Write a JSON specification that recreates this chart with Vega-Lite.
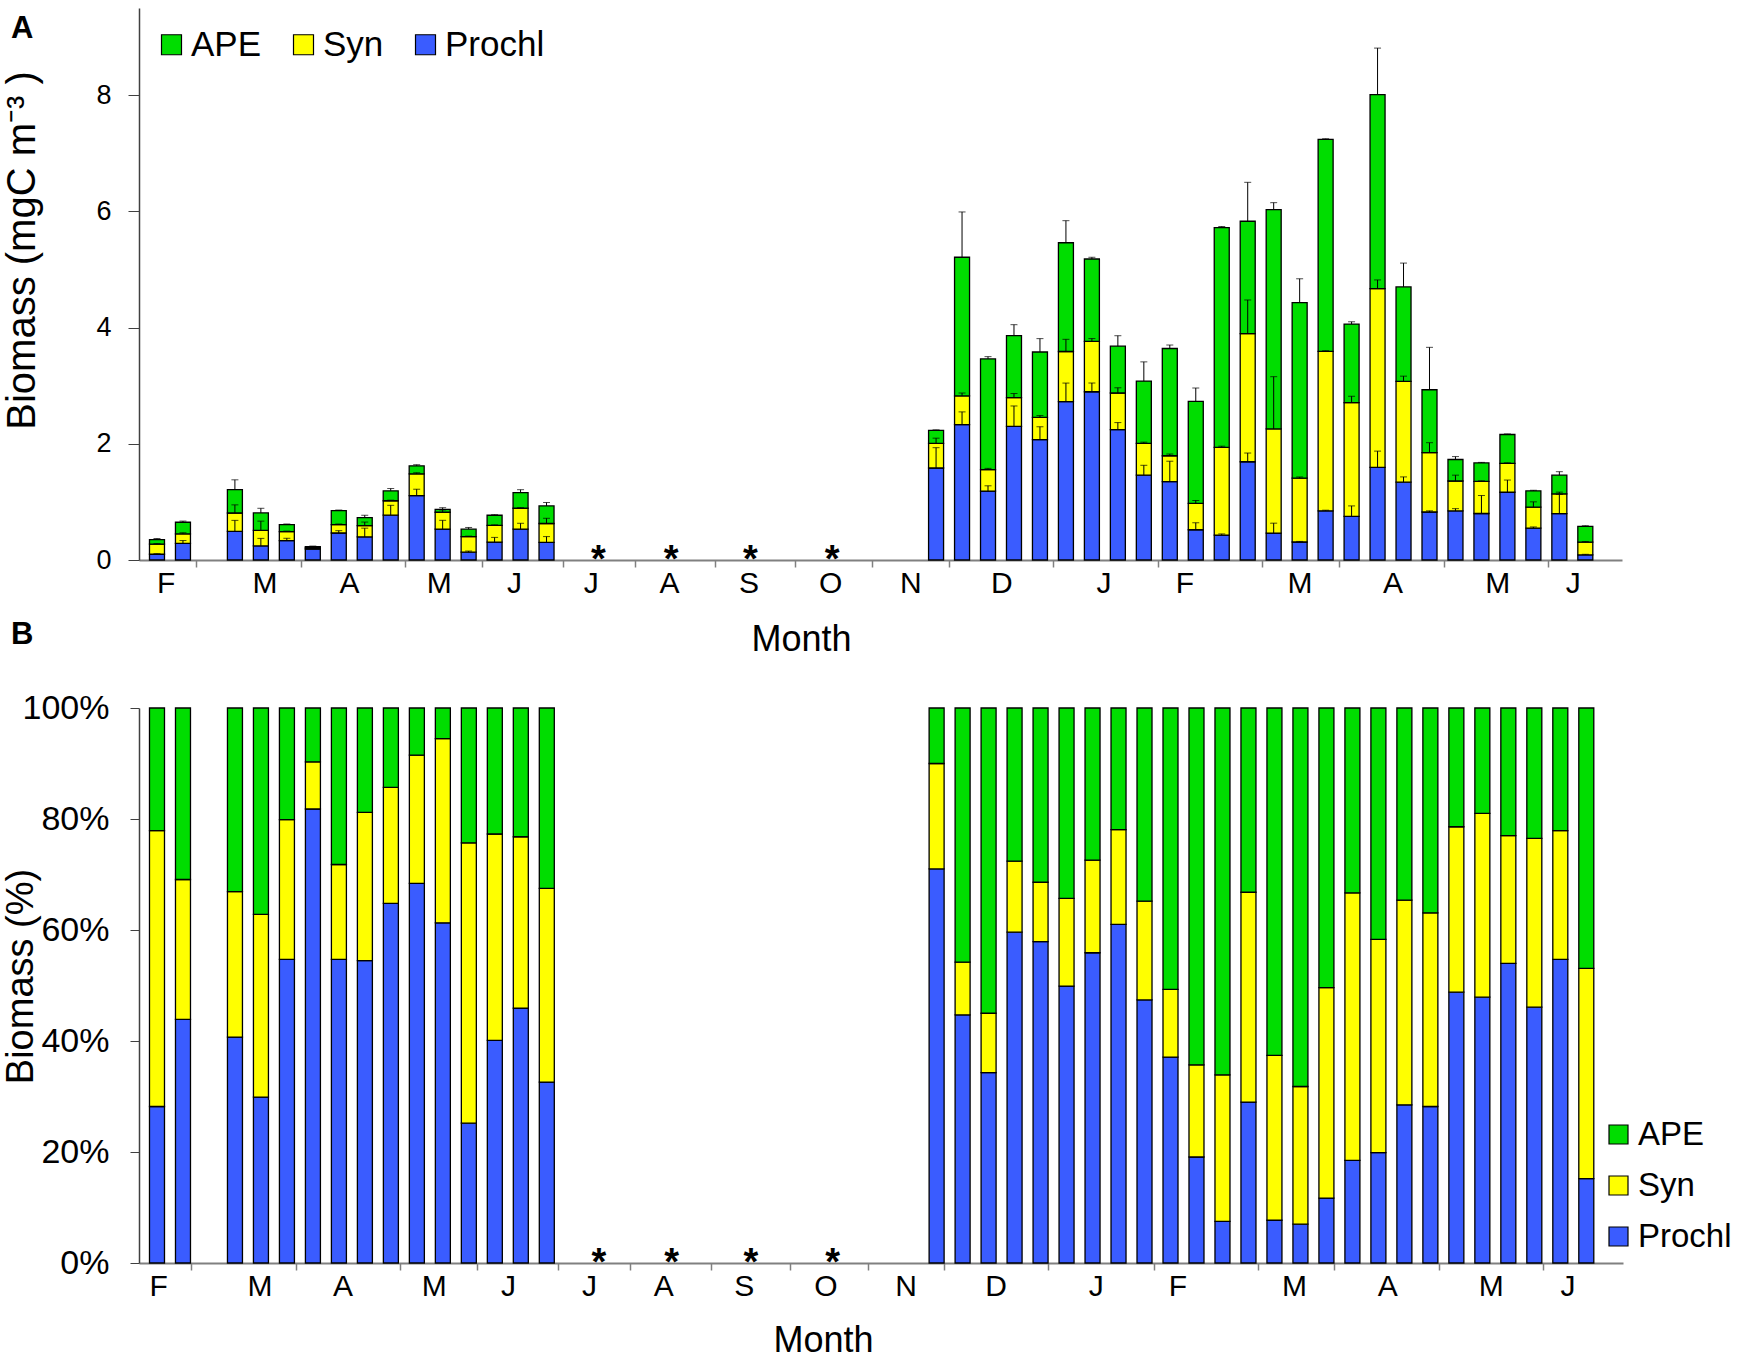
{
  "$schema": "https://vega.github.io/schema/vega-lite/v6.json",
  "background": "white",
  "padding": {"left": 1, "top": 8, "right": 0, "bottom": 0},
  "bounds": "flush",
  "spacing": 148,
  "datasets": {
    "bio": [
      {"s": 0, "g": "Prochl", "k": 1, "v": 0.099, "p": 28.2, "u": 0.109},
      {"s": 0, "g": "Syn", "k": 2, "v": 0.174, "p": 49.7, "u": 0.283},
      {"s": 0, "g": "APE", "k": 3, "v": 0.077, "p": 22.1, "u": 0.37},
      {"s": 1, "g": "Prochl", "k": 1, "v": 0.285, "p": 43.9, "u": 0.335},
      {"s": 1, "g": "Syn", "k": 2, "v": 0.164, "p": 25.2, "u": 0.469},
      {"s": 1, "g": "APE", "k": 3, "v": 0.201, "p": 30.9, "u": 0.67},
      {"s": 3, "g": "Prochl", "k": 1, "v": 0.492, "p": 40.7, "u": 0.682},
      {"s": 3, "g": "Syn", "k": 2, "v": 0.317, "p": 26.2, "u": 0.949},
      {"s": 3, "g": "APE", "k": 3, "v": 0.401, "p": 33.1, "u": 1.38},
      {"s": 4, "g": "Prochl", "k": 1, "v": 0.242, "p": 29.9, "u": 0.372},
      {"s": 4, "g": "Syn", "k": 2, "v": 0.267, "p": 32.9, "u": 0.669},
      {"s": 4, "g": "APE", "k": 3, "v": 0.301, "p": 37.2, "u": 0.89},
      {"s": 5, "g": "Prochl", "k": 1, "v": 0.334, "p": 54.7, "u": 0.374},
      {"s": 5, "g": "Syn", "k": 2, "v": 0.154, "p": 25.2, "u": 0.498},
      {"s": 5, "g": "APE", "k": 3, "v": 0.122, "p": 20.1, "u": 0.62},
      {"s": 6, "g": "Prochl", "k": 1, "v": 0.188, "p": 81.8, "u": 0.198},
      {"s": 6, "g": "Syn", "k": 2, "v": 0.02, "p": 8.5, "u": 0.218},
      {"s": 6, "g": "APE", "k": 3, "v": 0.022, "p": 9.7, "u": 0.24},
      {"s": 7, "g": "Prochl", "k": 1, "v": 0.465, "p": 54.7, "u": 0.505},
      {"s": 7, "g": "Syn", "k": 2, "v": 0.145, "p": 17.1, "u": 0.62},
      {"s": 7, "g": "APE", "k": 3, "v": 0.24, "p": 28.2, "u": 0.86},
      {"s": 8, "g": "Prochl", "k": 1, "v": 0.398, "p": 54.5, "u": 0.548},
      {"s": 8, "g": "Syn", "k": 2, "v": 0.195, "p": 26.7, "u": 0.653},
      {"s": 8, "g": "APE", "k": 3, "v": 0.137, "p": 18.8, "u": 0.77},
      {"s": 9, "g": "Prochl", "k": 1, "v": 0.771, "p": 64.8, "u": 0.941},
      {"s": 9, "g": "Syn", "k": 2, "v": 0.249, "p": 20.9, "u": 1.03},
      {"s": 9, "g": "APE", "k": 3, "v": 0.17, "p": 14.3, "u": 1.23},
      {"s": 10, "g": "Prochl", "k": 1, "v": 1.108, "p": 68.4, "u": 1.218},
      {"s": 10, "g": "Syn", "k": 2, "v": 0.374, "p": 23.1, "u": 1.502},
      {"s": 10, "g": "APE", "k": 3, "v": 0.138, "p": 8.5, "u": 1.64},
      {"s": 11, "g": "Prochl", "k": 1, "v": 0.533, "p": 61.3, "u": 0.683},
      {"s": 11, "g": "Syn", "k": 2, "v": 0.289, "p": 33.2, "u": 0.862},
      {"s": 11, "g": "APE", "k": 3, "v": 0.048, "p": 5.5, "u": 0.9},
      {"s": 12, "g": "Prochl", "k": 1, "v": 0.134, "p": 25.2, "u": 0.154},
      {"s": 12, "g": "Syn", "k": 2, "v": 0.267, "p": 50.5, "u": 0.411},
      {"s": 12, "g": "APE", "k": 3, "v": 0.129, "p": 24.3, "u": 0.56},
      {"s": 13, "g": "Prochl", "k": 1, "v": 0.309, "p": 40.1, "u": 0.389},
      {"s": 13, "g": "Syn", "k": 2, "v": 0.286, "p": 37.2, "u": 0.605},
      {"s": 13, "g": "APE", "k": 3, "v": 0.175, "p": 22.7, "u": 0.78},
      {"s": 14, "g": "Prochl", "k": 1, "v": 0.532, "p": 45.9, "u": 0.632},
      {"s": 14, "g": "Syn", "k": 2, "v": 0.359, "p": 30.9, "u": 0.901},
      {"s": 14, "g": "APE", "k": 3, "v": 0.269, "p": 23.2, "u": 1.21},
      {"s": 15, "g": "Prochl", "k": 1, "v": 0.303, "p": 32.6, "u": 0.403},
      {"s": 15, "g": "Syn", "k": 2, "v": 0.325, "p": 34.9, "u": 0.718},
      {"s": 15, "g": "APE", "k": 3, "v": 0.302, "p": 32.5, "u": 0.99},
      {"s": 30, "g": "Prochl", "k": 1, "v": 1.583, "p": 71.0, "u": 1.933},
      {"s": 30, "g": "Syn", "k": 2, "v": 0.424, "p": 19.0, "u": 2.097},
      {"s": 30, "g": "APE", "k": 3, "v": 0.223, "p": 10.0, "u": 2.24},
      {"s": 31, "g": "Prochl", "k": 1, "v": 2.329, "p": 44.7, "u": 2.549},
      {"s": 31, "g": "Syn", "k": 2, "v": 0.495, "p": 9.5, "u": 2.874},
      {"s": 31, "g": "APE", "k": 3, "v": 2.386, "p": 45.8, "u": 5.99},
      {"s": 32, "g": "Prochl", "k": 1, "v": 1.187, "p": 34.3, "u": 1.277},
      {"s": 32, "g": "Syn", "k": 2, "v": 0.37, "p": 10.7, "u": 1.577},
      {"s": 32, "g": "APE", "k": 3, "v": 1.903, "p": 55.0, "u": 3.5},
      {"s": 33, "g": "Prochl", "k": 1, "v": 2.301, "p": 59.6, "u": 2.651},
      {"s": 33, "g": "Syn", "k": 2, "v": 0.494, "p": 12.8, "u": 2.865},
      {"s": 33, "g": "APE", "k": 3, "v": 1.065, "p": 27.6, "u": 4.05},
      {"s": 34, "g": "Prochl", "k": 1, "v": 2.073, "p": 57.9, "u": 2.293},
      {"s": 34, "g": "Syn", "k": 2, "v": 0.383, "p": 10.7, "u": 2.486},
      {"s": 34, "g": "APE", "k": 3, "v": 1.124, "p": 31.4, "u": 3.81},
      {"s": 35, "g": "Prochl", "k": 1, "v": 2.725, "p": 49.9, "u": 3.045},
      {"s": 35, "g": "Syn", "k": 2, "v": 0.863, "p": 15.8, "u": 3.798},
      {"s": 35, "g": "APE", "k": 3, "v": 1.872, "p": 34.3, "u": 5.84},
      {"s": 36, "g": "Prochl", "k": 1, "v": 2.896, "p": 55.9, "u": 3.046},
      {"s": 36, "g": "Syn", "k": 2, "v": 0.865, "p": 16.7, "u": 3.811},
      {"s": 36, "g": "APE", "k": 3, "v": 1.419, "p": 27.4, "u": 5.21},
      {"s": 37, "g": "Prochl", "k": 1, "v": 2.245, "p": 61.0, "u": 2.365},
      {"s": 37, "g": "Syn", "k": 2, "v": 0.629, "p": 17.1, "u": 2.964},
      {"s": 37, "g": "APE", "k": 3, "v": 0.806, "p": 21.9, "u": 3.86},
      {"s": 38, "g": "Prochl", "k": 1, "v": 1.46, "p": 47.4, "u": 1.63},
      {"s": 38, "g": "Syn", "k": 2, "v": 0.548, "p": 17.8, "u": 2.028},
      {"s": 38, "g": "APE", "k": 3, "v": 1.072, "p": 34.8, "u": 3.41},
      {"s": 39, "g": "Prochl", "k": 1, "v": 1.35, "p": 37.1, "u": 1.7},
      {"s": 39, "g": "Syn", "k": 2, "v": 0.444, "p": 12.2, "u": 1.824},
      {"s": 39, "g": "APE", "k": 3, "v": 1.846, "p": 50.7, "u": 3.7},
      {"s": 40, "g": "Prochl", "k": 1, "v": 0.521, "p": 19.1, "u": 0.641},
      {"s": 40, "g": "Syn", "k": 2, "v": 0.453, "p": 16.6, "u": 1.024},
      {"s": 40, "g": "APE", "k": 3, "v": 1.756, "p": 64.3, "u": 2.96},
      {"s": 41, "g": "Prochl", "k": 1, "v": 0.429, "p": 7.5, "u": 0.449},
      {"s": 41, "g": "Syn", "k": 2, "v": 1.51, "p": 26.4, "u": 1.959},
      {"s": 41, "g": "APE", "k": 3, "v": 3.781, "p": 66.1, "u": 5.74},
      {"s": 42, "g": "Prochl", "k": 1, "v": 1.691, "p": 29.0, "u": 1.841},
      {"s": 42, "g": "Syn", "k": 2, "v": 2.204, "p": 37.8, "u": 4.475},
      {"s": 42, "g": "APE", "k": 3, "v": 1.935, "p": 33.2, "u": 6.5},
      {"s": 43, "g": "Prochl", "k": 1, "v": 0.464, "p": 7.7, "u": 0.634},
      {"s": 43, "g": "Syn", "k": 2, "v": 1.791, "p": 29.7, "u": 3.155},
      {"s": 43, "g": "APE", "k": 3, "v": 3.775, "p": 62.6, "u": 6.15},
      {"s": 44, "g": "Prochl", "k": 1, "v": 0.31, "p": 7.0, "u": 0.32},
      {"s": 44, "g": "Syn", "k": 2, "v": 1.099, "p": 24.8, "u": 1.429},
      {"s": 44, "g": "APE", "k": 3, "v": 3.021, "p": 68.2, "u": 4.84},
      {"s": 45, "g": "Prochl", "k": 1, "v": 0.847, "p": 11.7, "u": 0.857},
      {"s": 45, "g": "Syn", "k": 2, "v": 2.744, "p": 37.9, "u": 3.601},
      {"s": 45, "g": "APE", "k": 3, "v": 3.649, "p": 50.4, "u": 7.25},
      {"s": 46, "g": "Prochl", "k": 1, "v": 0.751, "p": 18.5, "u": 0.931},
      {"s": 46, "g": "Syn", "k": 2, "v": 1.957, "p": 48.2, "u": 2.818},
      {"s": 46, "g": "APE", "k": 3, "v": 1.352, "p": 33.3, "u": 4.1},
      {"s": 47, "g": "Prochl", "k": 1, "v": 1.594, "p": 19.9, "u": 1.874},
      {"s": 47, "g": "Syn", "k": 2, "v": 3.076, "p": 38.4, "u": 4.82},
      {"s": 47, "g": "APE", "k": 3, "v": 3.34, "p": 41.7, "u": 8.81},
      {"s": 48, "g": "Prochl", "k": 1, "v": 1.34, "p": 28.5, "u": 1.43},
      {"s": 48, "g": "Syn", "k": 2, "v": 1.734, "p": 36.9, "u": 3.164},
      {"s": 48, "g": "APE", "k": 3, "v": 1.626, "p": 34.6, "u": 5.11},
      {"s": 49, "g": "Prochl", "k": 1, "v": 0.826, "p": 28.2, "u": 0.846},
      {"s": 49, "g": "Syn", "k": 2, "v": 1.023, "p": 34.9, "u": 2.019},
      {"s": 49, "g": "APE", "k": 3, "v": 1.081, "p": 36.9, "u": 3.66},
      {"s": 50, "g": "Prochl", "k": 1, "v": 0.844, "p": 48.8, "u": 0.884},
      {"s": 50, "g": "Syn", "k": 2, "v": 0.516, "p": 29.8, "u": 1.46},
      {"s": 50, "g": "APE", "k": 3, "v": 0.37, "p": 21.4, "u": 1.78},
      {"s": 51, "g": "Prochl", "k": 1, "v": 0.8, "p": 47.9, "u": 1.11},
      {"s": 51, "g": "Syn", "k": 2, "v": 0.553, "p": 33.1, "u": 1.363},
      {"s": 51, "g": "APE", "k": 3, "v": 0.317, "p": 19.0, "u": 1.68},
      {"s": 52, "g": "Prochl", "k": 1, "v": 1.166, "p": 54.0, "u": 1.376},
      {"s": 52, "g": "Syn", "k": 2, "v": 0.497, "p": 23.0, "u": 1.673},
      {"s": 52, "g": "APE", "k": 3, "v": 0.497, "p": 23.0, "u": 2.17},
      {"s": 53, "g": "Prochl", "k": 1, "v": 0.549, "p": 46.1, "u": 0.569},
      {"s": 53, "g": "Syn", "k": 2, "v": 0.362, "p": 30.4, "u": 1.001},
      {"s": 53, "g": "APE", "k": 3, "v": 0.279, "p": 23.5, "u": 1.2},
      {"s": 54, "g": "Prochl", "k": 1, "v": 0.799, "p": 54.7, "u": 1.129},
      {"s": 54, "g": "Syn", "k": 2, "v": 0.339, "p": 23.2, "u": 1.168},
      {"s": 54, "g": "APE", "k": 3, "v": 0.322, "p": 22.1, "u": 1.52},
      {"s": 55, "g": "Prochl", "k": 1, "v": 0.088, "p": 15.2, "u": 0.098},
      {"s": 55, "g": "Syn", "k": 2, "v": 0.22, "p": 37.9, "u": 0.318},
      {"s": 55, "g": "APE", "k": 3, "v": 0.272, "p": 46.9, "u": 0.59}
    ],
    "miss": [
      {"s": 17.0, "m": "Jul"},
      {"s": 19.8, "m": "Aug"},
      {"s": 22.85, "m": "Sep"},
      {"s": 26.0, "m": "Oct"}
    ]
  },
  "config": {
    "font": "Liberation Sans",
    "view": {"stroke": null},
    "axis": {
      "grid": false,
      "labelColor": "black",
      "titleColor": "black",
      "titleFontWeight": "normal",
      "titleFontSize": 36,
      "labelFlush": false,
      "labelOverlap": false
    },
    "legend": {"padding": 0},
    "title": {"color": "black"}
  },
  "resolve": {"legend": {"color": "independent"}},
  "vconcat": [
    {
      "width": 1483,
      "height": 552,
      "title": {
        "text": "A",
        "anchor": "start",
        "frame": "group",
        "fontSize": 31,
        "fontWeight": "bold",
        "offset": 0,
        "dx": -128,
        "dy": 37
      },
      "resolve": {"axis": {"x": "independent"}},
      "layer": [
        {
          "data": {"name": "bio"},
          "mark": {"type": "bar", "width": 15, "stroke": "black", "strokeWidth": 1.3},
          "encoding": {
            "x": {
              "field": "s",
              "type": "quantitative",
              "scale": {"domain": [-0.5, 56.22], "nice": false, "zero": false},
              "axis": {
                "orient": "bottom",
                "values": [1.5, 5.55, 9.55, 12.5, 15.65, 18.4, 21.5, 24.55, 27.55, 30.5, 34.5, 38.55, 42.55, 45.5, 49.55, 53.55],
                "labels": false,
                "title": null,
                "tickSize": 7,
                "tickWidth": 1.5,
                "tickColor": "#808080",
                "domainColor": "#808080",
                "domainWidth": 2
              }
            },
            "y": {
              "field": "v",
              "type": "quantitative",
              "stack": "zero",
              "scale": {"domain": [0, 9.5], "nice": false},
              "axis": {
                "values": [0, 2, 4, 6, 8],
                "format": "d",
                "tickSize": 11,
                "tickColor": "#404040",
                "domainColor": "#404040",
                "domainWidth": 1.5,
                "labelFontSize": 27,
                "labelPadding": 17,
                "title": "Biomass (mgC m⁻³ )",
                "titleFontSize": 40,
                "titleX": -97,
                "titleY": 242
              }
            },
            "color": {
              "field": "g",
              "type": "nominal",
              "scale": {"domain": ["APE", "Syn", "Prochl"], "range": ["#00dd00", "#ffff00", "#3a5cff"]},
              "legend": {
                "title": null,
                "orient": "none",
                "direction": "horizontal",
                "legendX": 15,
                "legendY": 19,
                "labelFontSize": 35,
                "labelColor": "black",
                "labelOffset": 2,
                "columnPadding": 24,
                "symbolType": "square",
                "symbolSize": 400,
                "symbolStrokeColor": "black",
                "symbolStrokeWidth": 1.2
              }
            },
            "order": {"field": "k", "type": "quantitative"}
          }
        },
        {
          "data": {"name": "bio"},
          "transform": [
            {"stack": "v", "groupby": ["s"], "sort": [{"field": "k", "order": "ascending"}], "as": ["v0", "v1"]}
          ],
          "mark": {"type": "rule", "color": "black", "strokeWidth": 1},
          "encoding": {
            "x": {"field": "s", "type": "quantitative", "axis": null},
            "y": {"field": "v1", "type": "quantitative"},
            "y2": {"field": "u"}
          }
        },
        {
          "data": {"name": "bio"},
          "mark": {"type": "tick", "orient": "horizontal", "color": "black", "thickness": 1, "size": 7},
          "encoding": {
            "x": {"field": "s", "type": "quantitative", "axis": null},
            "y": {"field": "u", "type": "quantitative"}
          }
        },
        {
          "data": {"name": "miss"},
          "mark": {"type": "text", "text": "*", "fontSize": 38, "fontWeight": "bold", "baseline": "middle", "dy": 1, "color": "black"},
          "encoding": {
            "x": {
              "field": "s",
              "type": "quantitative",
              "axis": {
                "orient": "bottom",
                "values": [0.33, 4.14, 7.39, 10.85, 13.75, 16.7, 19.72, 22.78, 25.92, 29.01, 32.51, 36.45, 39.56, 43.99, 47.58, 51.61, 54.52],
                "labelExpr": "['F','M','A','M','J','J','A','S','O','N','D','J','F','M','A','M','J'][indexof([0.33, 4.14, 7.39, 10.85, 13.75, 16.7, 19.72, 22.78, 25.92, 29.01, 32.51, 36.45, 39.56, 43.99, 47.58, 51.61, 54.52], datum.value)]",
                "domain": false,
                "ticks": false,
                "labelFontSize": 30,
                "labelPadding": 8,
                "title": "Month",
                "titleX": 662,
                "titleY": 62
              }
            },
            "y": {"datum": 0, "type": "quantitative"}
          }
        }
      ]
    },
    {
      "width": 1484,
      "height": 555,
      "title": {
        "text": "B",
        "anchor": "start",
        "frame": "group",
        "fontSize": 31,
        "fontWeight": "bold",
        "offset": 0,
        "dx": -128,
        "dy": -40
      },
      "resolve": {"axis": {"x": "independent"}},
      "layer": [
        {
          "data": {"name": "bio"},
          "mark": {"type": "bar", "width": 15, "stroke": "black", "strokeWidth": 1.3},
          "encoding": {
            "x": {
              "field": "s",
              "type": "quantitative",
              "scale": {"domain": [-0.5, 56.22], "nice": false, "zero": false},
              "axis": {
                "orient": "bottom",
                "values": [1.3, 5.35, 9.35, 12.3, 15.45, 18.2, 21.3, 24.35, 27.35, 30.3, 34.3, 38.35, 42.35, 45.3, 49.35, 53.35],
                "labels": false,
                "title": null,
                "tickSize": 7,
                "tickWidth": 1.5,
                "tickColor": "#808080",
                "domainColor": "#808080",
                "domainWidth": 2
              }
            },
            "y": {
              "field": "p",
              "type": "quantitative",
              "stack": "zero",
              "scale": {"domain": [0, 100], "nice": false},
              "axis": {
                "values": [0, 20, 40, 60, 80, 100],
                "labelExpr": "datum.value + '%'",
                "tickSize": 9,
                "tickColor": "#404040",
                "domainColor": "#404040",
                "domainWidth": 1.5,
                "labelFontSize": 34,
                "labelPadding": 21,
                "title": "Biomass (%)",
                "titleFontSize": 38,
                "titleX": -99,
                "titleY": 268
              }
            },
            "color": {
              "field": "g",
              "type": "nominal",
              "legend": {
                "title": null,
                "orient": "none",
                "direction": "vertical",
                "legendX": 1463,
                "legendY": 410,
                "labelFontSize": 33,
                "labelColor": "black",
                "labelOffset": 3,
                "rowPadding": 17,
                "symbolType": "square",
                "symbolSize": 361,
                "symbolStrokeColor": "black",
                "symbolStrokeWidth": 1.2
              }
            },
            "order": {"field": "k", "type": "quantitative"}
          }
        },
        {
          "data": {"name": "miss"},
          "mark": {"type": "text", "text": "*", "fontSize": 38, "fontWeight": "bold", "baseline": "middle", "dy": 1, "color": "black"},
          "encoding": {
            "x": {
              "field": "s",
              "type": "quantitative",
              "axis": {
                "orient": "bottom",
                "values": [0.04, 3.94, 7.14, 10.65, 13.51, 16.62, 19.48, 22.58, 25.72, 28.81, 32.27, 36.12, 39.27, 43.75, 47.34, 51.32, 54.28],
                "labelExpr": "['F','M','A','M','J','J','A','S','O','N','D','J','F','M','A','M','J'][indexof([0.04, 3.94, 7.14, 10.65, 13.51, 16.62, 19.48, 22.58, 25.72, 28.81, 32.27, 36.12, 39.27, 43.75, 47.34, 51.32, 54.28], datum.value)]",
                "domain": false,
                "ticks": false,
                "labelFontSize": 30,
                "labelPadding": 8,
                "title": "Month",
                "titleX": 684,
                "titleY": 60
              }
            },
            "y": {"datum": 0, "type": "quantitative"}
          }
        }
      ]
    }
  ]
}
